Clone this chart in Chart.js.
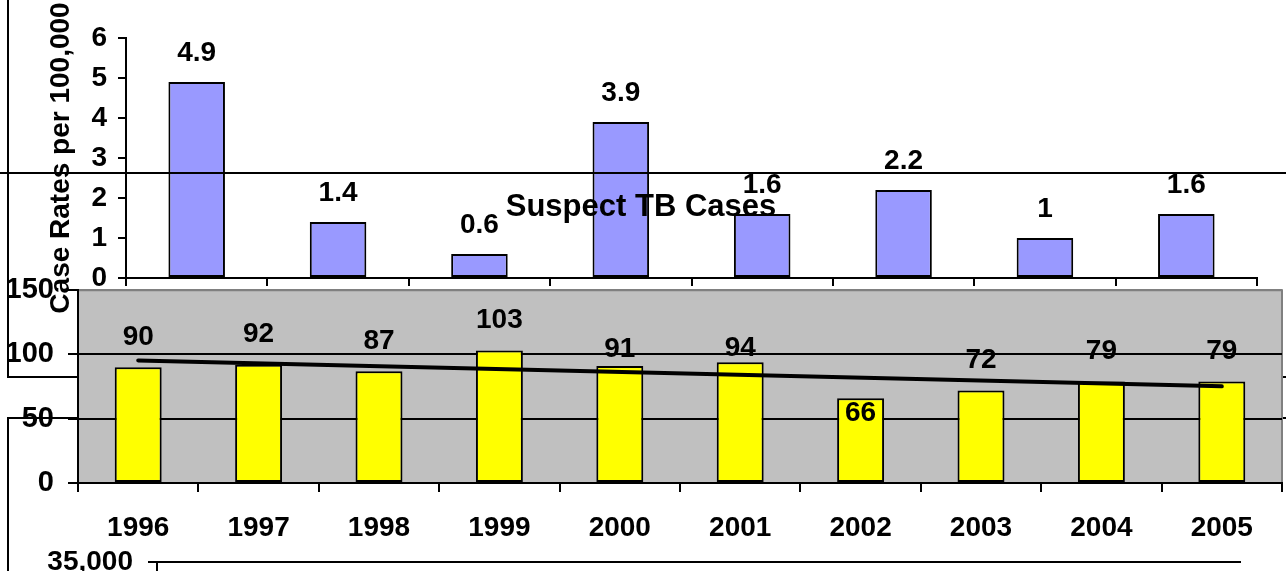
<!DOCTYPE html>
<html>
<head>
<meta charset="utf-8">
<title>Suspect TB Cases</title>
<script src="https://cdn.jsdelivr.net/npm/chart.js@4.4.1/dist/chart.umd.min.js"></script>
<style>
  html, body { margin: 0; padding: 0; background: #fff; overflow: hidden; }
  #stage { position: relative; width: 1286px; height: 571px; overflow: hidden; }
  .layer { position: absolute; left: 0; width: 1286px; }
  .rule { position: absolute; border: 0 solid #000; }
</style>
</head>
<body>
<div id="stage">
  <!-- slide frames lying behind the charts -->
  <div class="rule" style="left:7px; top:-10px; width:1300px; height:386px; border-left-width:2px; border-bottom-width:2px; z-index:0;"></div>
  <div class="rule" style="left:7px; top:417px; width:1300px; height:200px; border-left-width:2px; border-top-width:2px; z-index:0;"></div>

  <div class="layer" style="top:0; height:330px; z-index:1;"><canvas id="rates"></canvas></div>
  <div class="rule" style="left:0; top:172px; width:1286px; height:0; border-top-width:2px; z-index:2;"></div>
  <div class="layer" style="top:520px; height:300px; z-index:3;"><canvas id="totals"></canvas></div>
  <div class="layer" style="top:180px; height:391px; z-index:4;"><canvas id="cases"></canvas></div>
</div>

<script>
// top chart: case rates
const rateYears = ["1998", "1999", "2000", "2001", "2002", "2003", "2004", "2005"];
const rateValues = [4.9, 1.4, 0.6, 3.9, 1.6, 2.2, 1, 1.6];
const rateTicks = [0, 1, 2, 3, 4, 5, 6];

// middle chart: suspect cases
const caseYears = ["1996", "1997", "1998", "1999", "2000", "2001", "2002", "2003", "2004", "2005"];
const caseValues = [90, 92, 87, 103, 91, 94, 66, 72, 79, 79];
const caseTrend = [95.4, null, null, null, null, null, null, null, null, 75.2];
const caseTicks = [0, 50, 100, 150];

// bottom chart (only its top edge shows)
const totalTicks = [0, 5000, 10000, 15000, 20000, 25000, 30000, 35000];

const FONT = "'Liberation Sans', Arial, sans-serif";
Chart.defaults.font.family = FONT;
Chart.defaults.font.weight = "bold";
Chart.defaults.color = "#000";
Chart.defaults.animation = false;
Chart.defaults.plugins.legend.display = false;
Chart.defaults.plugins.tooltip.enabled = false;

const valueLabels = {
  id: "valueLabels",
  afterDatasetsDraw(chart, args, opts) {
    const { ctx } = chart;
    const meta = chart.getDatasetMeta(0);
    const values = chart.data.datasets[0].data;
    ctx.save();
    ctx.font = opts.font;
    ctx.fillStyle = "#000";
    ctx.textAlign = "center";
    ctx.textBaseline = "middle";
    meta.data.forEach((bar, i) => {
      const nudge = (opts.nudge && opts.nudge[i]) || 0;
      ctx.fillText(String(values[i]), bar.x, bar.y - opts.offset + nudge);
    });
    ctx.restore();
  },
};

const plotFill = {
  id: "plotFill",
  beforeDraw(chart, args, opts) {
    const { ctx, chartArea: a } = chart;
    ctx.save();
    ctx.fillStyle = opts.color;
    ctx.fillRect(a.left, a.top, a.right - a.left, a.bottom - a.top);
    ctx.strokeStyle = opts.edge;
    ctx.lineWidth = 2;
    ctx.beginPath();
    ctx.moveTo(a.left, a.top);
    ctx.lineTo(a.right, a.top);
    ctx.lineTo(a.right, a.bottom);
    ctx.stroke();
    ctx.restore();
  },
};

function fixedTicks(list) {
  return (scale) => {
    scale.ticks = list.map((v) => ({ value: v }));
  };
}

new Chart(document.getElementById("rates"), {
  type: "bar",
  data: {
    labels: rateYears,
    datasets: [
      {
        data: rateValues,
        backgroundColor: "#9999FF",
        borderColor: "#000",
        borderWidth: 2,
        borderSkipped: false,
        categoryPercentage: 1,
        barPercentage: 0.4,
      },
    ],
  },
  options: {
    responsive: true,
    maintainAspectRatio: false,
    layout: { padding: { left: 0, right: 29, top: 38, bottom: 30 } },
    scales: {
      x: {
        offset: true,
        ticks: { display: false },
        grid: { offset: true, drawOnChartArea: false, tickLength: 8, color: "#000", lineWidth: 2 },
        border: { color: "#000", width: 2 },
        afterFit: (s) => { s.height = 22; },
      },
      y: {
        min: 0,
        max: 6,
        afterBuildTicks: fixedTicks(rateTicks),
        ticks: { font: { size: 28, weight: "bold" }, padding: 11 },
        grid: { drawOnChartArea: false, tickLength: 8, color: "#000", lineWidth: 2 },
        border: { color: "#000", width: 2 },
        title: {
          display: true,
          text: "Case Rates per 100,000",
          font: { size: 28, weight: "bold" },
          padding: { top: 44, bottom: 0 },
        },
        afterFit: (s) => { s.width = 126; },
      },
    },
    plugins: {
      valueLabels: { font: "bold 28px " + FONT, offset: 29 },
    },
  },
  plugins: [valueLabels],
});

new Chart(document.getElementById("cases"), {
  type: "bar",
  data: {
    labels: caseYears,
    datasets: [
      {
        type: "bar",
        data: caseValues,
        backgroundColor: "#FFFF00",
        borderColor: "#000",
        borderWidth: 2,
        borderSkipped: false,
        categoryPercentage: 1,
        barPercentage: 0.39,
        order: 2,
      },
      {
        type: "line",
        data: caseTrend,
        spanGaps: true,
        borderColor: "#000",
        borderWidth: 4,
        borderCapStyle: "round",
        pointRadius: 0,
        fill: false,
        order: 1,
      },
    ],
  },
  options: {
    responsive: true,
    maintainAspectRatio: false,
    layout: { padding: { left: 0, right: 4, top: 0, bottom: 0 } },
    scales: {
      x: {
        offset: true,
        ticks: { font: { size: 28, weight: "bold" }, padding: 19, maxRotation: 0 },
        grid: { offset: true, drawOnChartArea: false, tickLength: 9, color: "#000", lineWidth: 2 },
        border: { color: "#000", width: 2 },
        afterFit: (s) => { s.height = 88; },
      },
      y: {
        min: 0,
        max: 150,
        afterBuildTicks: fixedTicks(caseTicks),
        ticks: { font: { size: 29, weight: "bold" }, padding: 14 },
        grid: {
          tickLength: 10,
          lineWidth: 2,
          tickColor: "#000",
          color: (c) => (c.tick && c.tick.value === 150 ? "#808080" : "#000"),
        },
        border: { color: "#000", width: 2 },
        afterFit: (s) => { s.width = 78; },
      },
    },
    plugins: {
      title: {
        display: true,
        text: "Suspect TB Cases",
        font: { size: 31, weight: "bold" },
        color: "#000",
        padding: { top: 9, bottom: 64 },
      },
      plotFill: { color: "#C0C0C0", edge: "#808080" },
      valueLabels: {
        font: "bold 28px " + FONT,
        offset: 30,
        nudge: [0, 0, 0, 0, 13, 16, 45, 0, 0, 0],
      },
    },
  },
  plugins: [plotFill, valueLabels],
});

new Chart(document.getElementById("totals"), {
  type: "bar",
  data: { labels: caseYears, datasets: [] },
  options: {
    responsive: true,
    maintainAspectRatio: false,
    layout: { padding: { left: 0, right: 45, top: 42, bottom: 0 } },
    scales: {
      x: { display: false },
      y: {
        min: 0,
        max: 35000,
        afterBuildTicks: fixedTicks(totalTicks),
        ticks: { font: { size: 28, weight: "bold" }, padding: 15 },
        grid: { tickLength: 9, color: "#000", lineWidth: 2 },
        border: { color: "#000", width: 2 },
        afterFit: (s) => { s.width = 157; },
      },
    },
  },
});
</script>
</body>
</html>
